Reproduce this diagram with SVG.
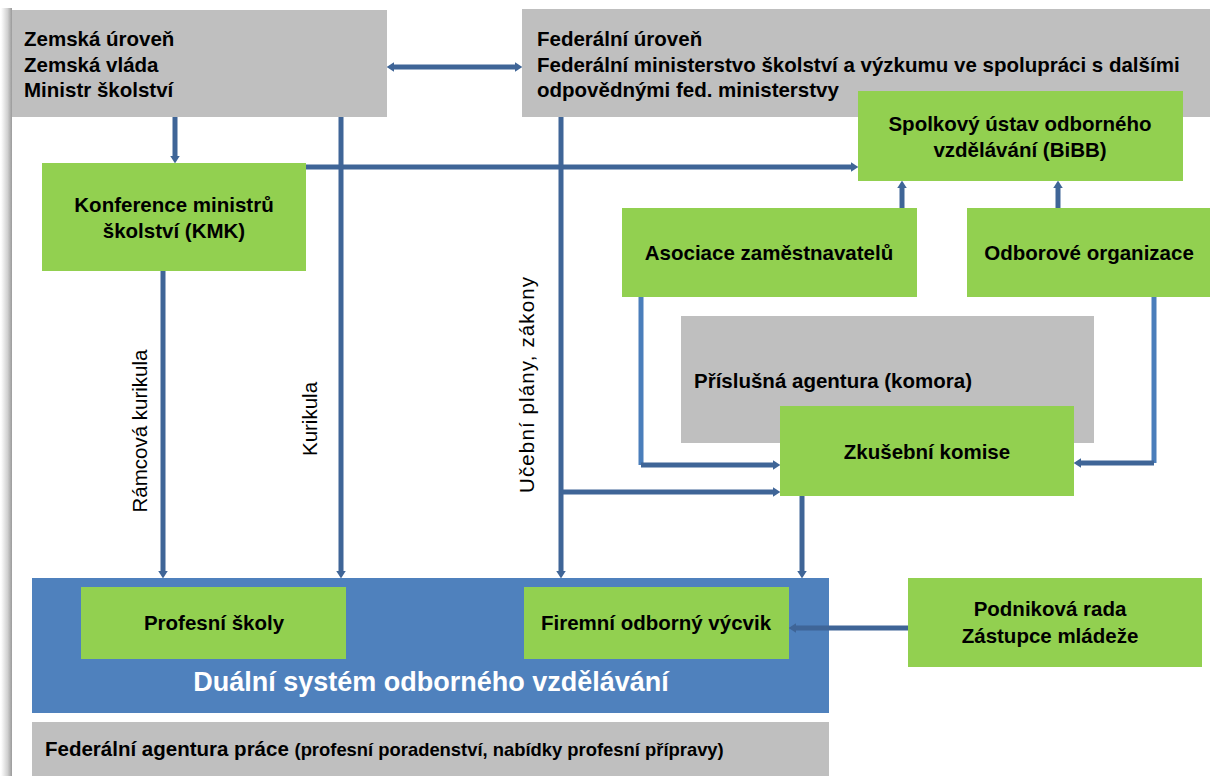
<svg xmlns="http://www.w3.org/2000/svg" width="1210" height="776" viewBox="0 0 1210 776">
<defs>
<linearGradient id="shadow" x1="0" y1="0" x2="1" y2="0">
<stop offset="0" stop-color="#ffffff"/>
<stop offset="0.6" stop-color="#d0d0d0"/>
<stop offset="1" stop-color="#9a9a9a"/>
</linearGradient>
<marker id="ah" viewBox="0 0 14 18" refX="0" refY="9" markerWidth="1.5" markerHeight="1.9" orient="auto-start-reverse">
<path d="M0,0 L14,9 L0,18 z" fill="#3F6597"/>
</marker>
<style>
.gray{fill:#BFBFBF}
.green{fill:#92D050}
.blue{fill:#4F81BD}
.t{font-family:"Liberation Sans",Arial,sans-serif;font-weight:bold;font-size:20.5px;fill:#000}
.c{text-anchor:middle}
.lab{font-family:"Liberation Sans",Arial,sans-serif;font-size:20.5px;fill:#000;text-anchor:middle}
.dk{fill:none;stroke:#3F6597;stroke-width:5}
.lt{fill:none;stroke:#4A7EBB;stroke-width:5}
</style>
</defs>
<rect x="1" y="8" width="11" height="768" fill="url(#shadow)"/>

<g id="zemska">
<rect class="gray" x="12" y="10" width="375" height="107"/>
<text class="t" x="24" y="46">Zemská úroveň</text>
<text class="t" x="24" y="71.5">Zemská vláda</text>
<text class="t" x="24" y="97">Ministr školství</text>
</g>
<g id="federalni">
<rect class="gray" x="522" y="9" width="688" height="108"/>
<text class="t" x="537" y="46">Federální úroveň</text>
<text class="t" x="537" y="71.5">Federální ministerstvo školství a výzkumu ve spolupráci s dalšími</text>
<text class="t" x="537" y="97">odpovědnými fed. ministerstvy</text>
</g>
<g id="bibb">
<rect class="green" x="858" y="91" width="325" height="90"/>
<text class="t c" x="1020" y="131">Spolkový ústav odborného</text>
<text class="t c" x="1020" y="157">vzdělávání (BiBB)</text>
</g>
<g id="kmk">
<rect class="green" x="42" y="163" width="264" height="108"/>
<text class="t c" x="174" y="212">Konference ministrů</text>
<text class="t c" x="174" y="238">školství (KMK)</text>
</g>
<g id="asociace">
<rect class="green" x="622" y="208" width="295" height="89"/>
<text class="t c" x="769" y="260">Asociace zaměstnavatelů</text>
</g>
<g id="odborove">
<rect class="green" x="967" y="208" width="243" height="89"/>
<text class="t c" x="1089" y="260">Odborové organizace</text>
</g>
<g id="agentura">
<rect class="gray" x="681" y="316" width="413" height="127"/>
<text class="t" x="694" y="388">Příslušná agentura (komora)</text>
</g>
<g id="zkusebni">
<rect class="green" x="780" y="406" width="294" height="90"/>
<text class="t c" x="927" y="459">Zkušební komise</text>
</g>
<g id="dual">
<rect class="blue" x="32" y="578" width="797" height="135"/>
<text class="t c" x="431" y="691" style="font-size:27px;fill:#fff">Duální systém odborného vzdělávání</text>
</g>
<g id="profesni">
<rect class="green" x="81" y="587" width="265" height="72"/>
<text class="t c" x="214" y="630">Profesní školy</text>
</g>
<g id="firemni">
<rect class="green" x="524" y="587" width="265" height="72"/>
<text class="t c" x="656" y="630">Firemní odborný výcvik</text>
</g>
<g id="podnikova">
<rect class="green" x="908" y="578" width="294" height="89"/>
<text class="t c" x="1050" y="616">Podniková rada</text>
<text class="t c" x="1050" y="643">Zástupce mládeže</text>
</g>
<g id="prace">
<rect class="gray" x="32" y="722" width="797" height="54"/>
<text class="t" x="45" y="756">Federální agentura práce <tspan style="font-size:18.4px">(profesní poradenství, nabídky profesní přípravy)</tspan></text>
</g>

<g id="connectors">
<path class="dk" d="M394,67 H515" marker-start="url(#ah)" marker-end="url(#ah)"/>
<path class="dk" d="M175,117 V156" marker-end="url(#ah)"/>
<path class="dk" d="M306,167 H851" marker-end="url(#ah)"/>
<path class="dk" d="M163,271 V571" marker-end="url(#ah)"/>
<path class="dk" d="M341,117 V571" marker-end="url(#ah)"/>
<path class="dk" d="M561,117 V571" marker-end="url(#ah)"/>
<path class="dk" d="M561,492 H773" marker-end="url(#ah)"/>
<path class="dk" d="M902,208 V188" marker-end="url(#ah)"/>
<path class="dk" d="M1058,208 V188" marker-end="url(#ah)"/>
<path class="lt" d="M641,297 V465"/>
<path class="dk" d="M641,465 H773" marker-end="url(#ah)"/>
<path class="lt" d="M1154,297 V463"/>
<path class="dk" d="M1154,463 H1081" marker-end="url(#ah)"/>
<path class="dk" d="M802,496 V571" marker-end="url(#ah)"/>
<path class="dk" d="M908,628 H796" marker-end="url(#ah)"/>
<text class="lab" transform="translate(147,431) rotate(-90)">Rámcová kurikula</text>
<text class="lab" transform="translate(317,419) rotate(-90)">Kurikula</text>
<text class="lab" transform="translate(534,385) rotate(-90)" textLength="216" lengthAdjust="spacing">Učební plány, zákony</text>
</g>
</svg>
